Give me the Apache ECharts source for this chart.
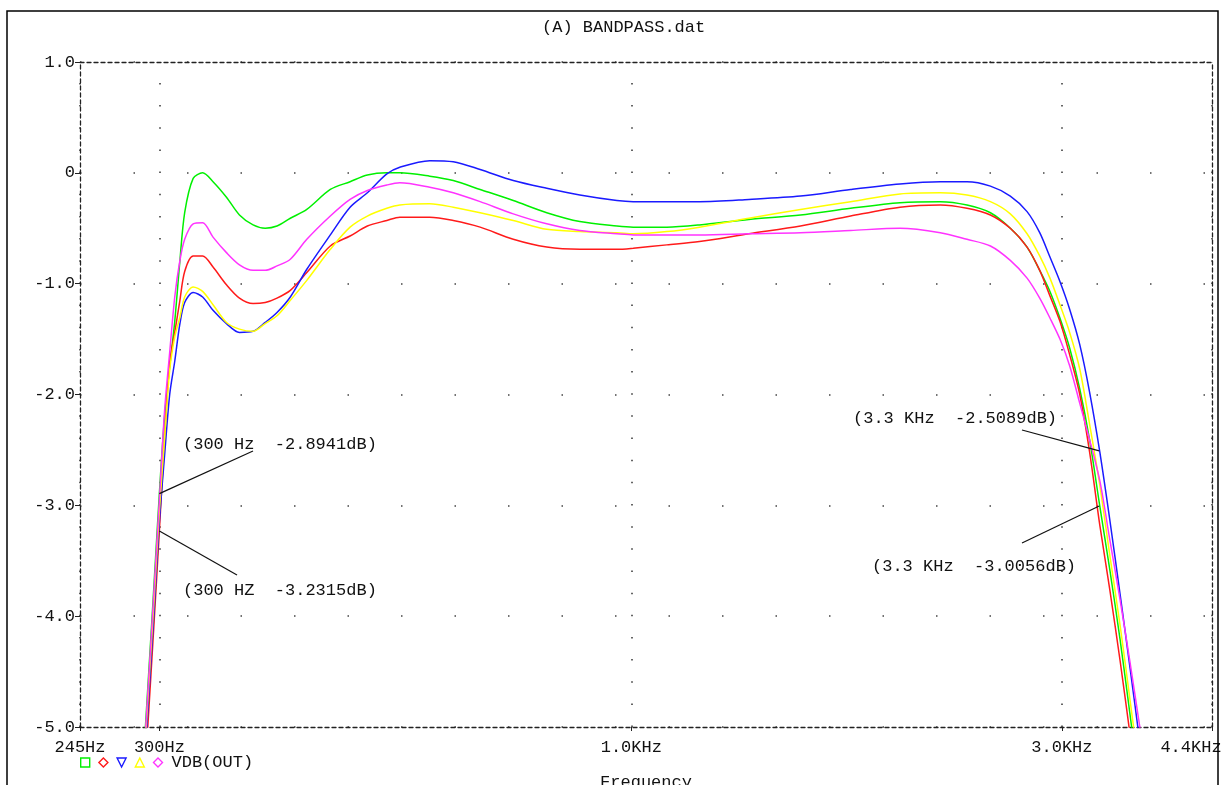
<!DOCTYPE html>
<html>
<head>
<meta charset="utf-8">
<title>BANDPASS.dat</title>
<script src="https://cdn.jsdelivr.net/npm/echarts@6/dist/echarts.min.js"></script>
<style>
html, body { margin: 0; padding: 0; background: #fff; }
#chart { width: 1221px; height: 785px; }
</style>
</head>
<body>
<div id="chart"></div>
<script>
// frequency points (Hz), shared by all five runs
var freqHz = [288, 292, 296, 300, 304, 308, 312, 316, 320, 327,
  335, 344, 356, 368, 381, 393, 405, 419, 437, 464,
  488, 510, 536, 554, 598, 635, 680, 740, 806, 877,
  964, 1005, 1095, 1190, 1350, 1540, 1750, 1985, 2200, 2355,
  2500, 2630, 2745, 2835, 2910, 2985, 3060, 3140, 3220, 3305,
  3390, 3480, 3570, 3660, 3750];

// VDB(OUT) for each run, dB
var vdbGreen = [-5.3, -4.5, -3.7, -2.89, -2.2, -1.75, -1.34, -0.81, -0.36, -0.05,
  0.0, -0.08, -0.22, -0.38, -0.47, -0.50, -0.48, -0.41, -0.33, -0.15,
  -0.08, -0.02, 0.0, 0.0, -0.03, -0.07, -0.15, -0.25, -0.36, -0.44,
  -0.48, -0.49, -0.49, -0.47, -0.42, -0.38, -0.32, -0.27, -0.26, -0.29,
  -0.36, -0.50, -0.67, -0.88, -1.07, -1.31, -1.58, -1.95, -2.41, -3.01,
  -3.58, -4.21, -4.89, -5.57, -6.2];
var vdbRed = [-5.65, -4.85, -4.05, -3.23, -2.4, -1.71, -1.44, -1.16, -0.89, -0.75,
  -0.75, -0.85, -1.01, -1.13, -1.18, -1.17, -1.13, -1.06, -0.90, -0.66,
  -0.57, -0.48, -0.43, -0.40, -0.40, -0.43, -0.49, -0.60, -0.67, -0.69,
  -0.69, -0.68, -0.65, -0.62, -0.55, -0.48, -0.39, -0.31, -0.29, -0.32,
  -0.38, -0.50, -0.67, -0.88, -1.11, -1.34, -1.64, -2.0, -2.52, -3.18,
  -3.76, -4.40, -5.07, -5.75, -6.4];
var vdbBlue = [-5.52, -4.72, -3.95, -3.15, -2.55, -2.0, -1.70, -1.37, -1.17, -1.08,
  -1.12, -1.24, -1.36, -1.44, -1.43, -1.35, -1.26, -1.12, -0.87, -0.56,
  -0.31, -0.18, -0.01, 0.05, 0.11, 0.10, 0.03, -0.07, -0.14, -0.20,
  -0.25, -0.26, -0.26, -0.26, -0.24, -0.21, -0.15, -0.10, -0.08, -0.08,
  -0.12, -0.21, -0.35, -0.54, -0.76, -0.98, -1.23, -1.55, -1.98, -2.52,
  -3.13, -3.80, -4.47, -5.14, -5.85];
var vdbYellow = [-5.42, -4.62, -3.85, -3.05, -2.4, -1.78, -1.48, -1.31, -1.12, -1.03,
  -1.07, -1.19, -1.35, -1.41, -1.43, -1.36, -1.29, -1.15, -0.97, -0.69,
  -0.49, -0.39, -0.32, -0.29, -0.28, -0.31, -0.36, -0.43, -0.51, -0.53,
  -0.54, -0.55, -0.53, -0.49, -0.41, -0.33, -0.26, -0.19, -0.18, -0.20,
  -0.26, -0.37, -0.55, -0.75, -0.95, -1.19, -1.44, -1.77, -2.27, -2.82,
  -3.45, -4.08, -4.76, -5.43, -6.1];
var vdbMagenta = [-5.35, -4.55, -3.75, -2.95, -2.15, -1.62, -1.12, -0.80, -0.60, -0.46,
  -0.45, -0.58, -0.72, -0.83, -0.88, -0.88, -0.84, -0.78, -0.60, -0.39,
  -0.24, -0.16, -0.11, -0.09, -0.13, -0.18, -0.26, -0.37, -0.46, -0.52,
  -0.55, -0.56, -0.56, -0.56, -0.55, -0.54, -0.52, -0.50, -0.54, -0.60,
  -0.66, -0.79, -0.95, -1.13, -1.31, -1.50, -1.74, -2.08, -2.41, -2.78,
  -3.31, -3.85, -4.42, -5.0, -5.57];

var seriesNames = ['run1', 'run2', 'run3', 'run4', 'run5'];
var seriesValues = [vdbGreen, vdbRed, vdbBlue, vdbYellow, vdbMagenta];
var seriesColors = ['#00f000', '#ff1a1a', '#1a1aff', '#ffff00', '#ff33ff'];
var legendIcons = ['rect', 'diamond', 'path://M0,0 L10,0 L5,10 Z', 'triangle', 'diamond'];

// axis ticks
var xTickValues = [245, 300, 1000, 3000, 4400];
var xTickLabels = ['245Hz', '300Hz', '1.0KHz', '3.0KHz', '4.4KHz'];

// cursor readouts
var noteFreq = [300, 300, 3300, 3300];
var noteDb = [-2.8941, -3.2315, -2.5089, -3.0056];
var noteText = ['(300 Hz  -2.8941dB)', '(300 HZ  -3.2315dB)',
  '(3.3 KHz  -2.5089dB)', '(3.3 KHz  -3.0056dB)'];
// where each readout text sits, in pixels
var noteLayout = [
  { tx: 183, ty: 444, lx: 253, ly: 451 },
  { tx: 183, ty: 590, lx: 237, ly: 575 },
  { tx: 853, ty: 418, lx: 1022, ly: 430 },
  { tx: 872, ty: 566, lx: 1022, ly: 543 }
];

var MONO = '"Liberation Mono", "DejaVu Sans Mono", monospace';
var frameDash = { color: '#222', width: 1.3, type: [4, 3] };

function tickLabel(v) {
  var best = 0;
  for (var i = 1; i < xTickValues.length; i++) {
    if (Math.abs(Math.log(v / xTickValues[i])) < Math.abs(Math.log(v / xTickValues[best]))) best = i;
  }
  if (best === xTickValues.length - 1) return '{far|' + xTickLabels[best] + '}';
  return xTickLabels[best];
}

var series = [];
for (var s = 0; s < seriesValues.length; s++) {
  var pts = [];
  for (var i = 0; i < freqHz.length; i++) pts.push([freqHz[i], seriesValues[s][i]]);
  series.push({
    name: seriesNames[s],
    type: 'line',
    data: pts,
    showSymbol: false,
    symbol: 'none',
    smooth: 0.3,
    clip: true,
    lineStyle: { color: seriesColors[s], width: 1.5 },
    itemStyle: { color: seriesColors[s] }
  });
}

var lines = [];
for (var n = 0; n < noteFreq.length; n++) {
  lines.push([{ coord: [noteFreq[n], noteDb[n]] }, { x: noteLayout[n].lx, y: noteLayout[n].ly }]);
}
series[0].markLine = {
  silent: true,
  animation: false,
  symbol: ['none', 'none'],
  label: { show: false },
  lineStyle: { color: '#111', width: 1.2, type: 'solid' },
  emphasis: { disabled: true },
  data: lines
};

var graphics = [{
  type: 'rect', silent: true, z: 100,
  shape: { x: 7, y: 11, width: 1211, height: 800 },
  style: { fill: 'none', stroke: '#000', lineWidth: 1.5 }
}];
for (var k = 0; k < noteText.length; k++) {
  graphics.push({
    type: 'text', silent: true, z: 100,
    x: noteLayout[k].tx, y: noteLayout[k].ty,
    style: { text: noteText[k], font: '17px ' + MONO, fill: '#111', verticalAlign: 'middle' }
  });
}

var legendData = [];
for (var j = 0; j < seriesNames.length; j++) {
  legendData.push({
    name: seriesNames[j],
    icon: legendIcons[j],
    itemStyle: { color: 'rgba(0,0,0,0)', borderColor: seriesColors[j], borderWidth: 1.4 }
  });
}

var chart = echarts.init(document.getElementById('chart'));
var option = {
  animation: false,
  backgroundColor: '#fff',
  title: {
    text: '(A) BANDPASS.dat',
    left: 537, top: 14,
    textStyle: { fontFamily: MONO, fontSize: 17, fontWeight: 'normal', color: '#111' }
  },
  legend: {
    left: 80, top: 754, padding: 0,
    selectedMode: false,
    itemWidth: 9, itemHeight: 9, itemGap: 7.8,
    textStyle: { fontFamily: MONO, fontSize: 17, color: '#111', padding: [0, 0, 0, 4] },
    formatter: function (name) { return name === seriesNames[4] ? 'VDB(OUT)' : ''; },
    data: legendData
  },
  grid: { left: 80, right: 9, top: 62, bottom: 58, outerBoundsMode: 'none', containLabel: false },
  xAxis: [{
    type: 'log', logBase: 10, min: 245, max: 4400,
    position: 'bottom',
    name: 'Frequency', nameLocation: 'middle', nameGap: 47,
    nameTextStyle: { fontFamily: MONO, fontSize: 17, color: '#111' },
    axisLine: { show: true, onZero: false, lineStyle: frameDash },
    axisTick: { show: true, customValues: xTickValues, length: 4, lineStyle: { color: '#222' } },
    axisLabel: {
      customValues: xTickValues, formatter: tickLabel, margin: 12,
      fontFamily: MONO, fontSize: 17, color: '#111',
      rich: { far: { fontFamily: MONO, fontSize: 17, color: '#111', padding: [0, 42, 0, 0] } }
    },
    splitLine: { show: true, lineStyle: { color: '#333', width: 1.5, type: [1.5, 20.66], dashOffset: 1.2 } },
    minorTick: { show: false }
  }, {
    type: 'log', logBase: 10, min: 245, max: 4400,
    position: 'top',
    axisLine: { show: true, onZero: false, lineStyle: frameDash },
    axisTick: { show: false }, axisLabel: { show: false }, splitLine: { show: false }
  }],
  yAxis: [{
    type: 'value', min: -5, max: 1, interval: 1,
    position: 'left',
    axisLine: { show: true, onZero: false, lineStyle: frameDash },
    axisTick: { show: true, length: 5, lineStyle: { color: '#222' } },
    axisLabel: {
      margin: 5, fontFamily: MONO, fontSize: 17, color: '#111',
      formatter: function (v) { return v === 0 ? '0' : v.toFixed(1); }
    },
    splitLine: { show: true, lineStyle: { color: '#444', width: 1.5, type: [1.5, 52] } }
  }, {
    type: 'value', min: -5, max: 1, interval: 1,
    position: 'right',
    axisLine: { show: true, onZero: false, lineStyle: frameDash },
    axisTick: { show: false }, axisLabel: { show: false }, splitLine: { show: false }
  }],
  graphic: graphics,
  series: series
};
chart.setOption(option);
</script>
</body>
</html>
